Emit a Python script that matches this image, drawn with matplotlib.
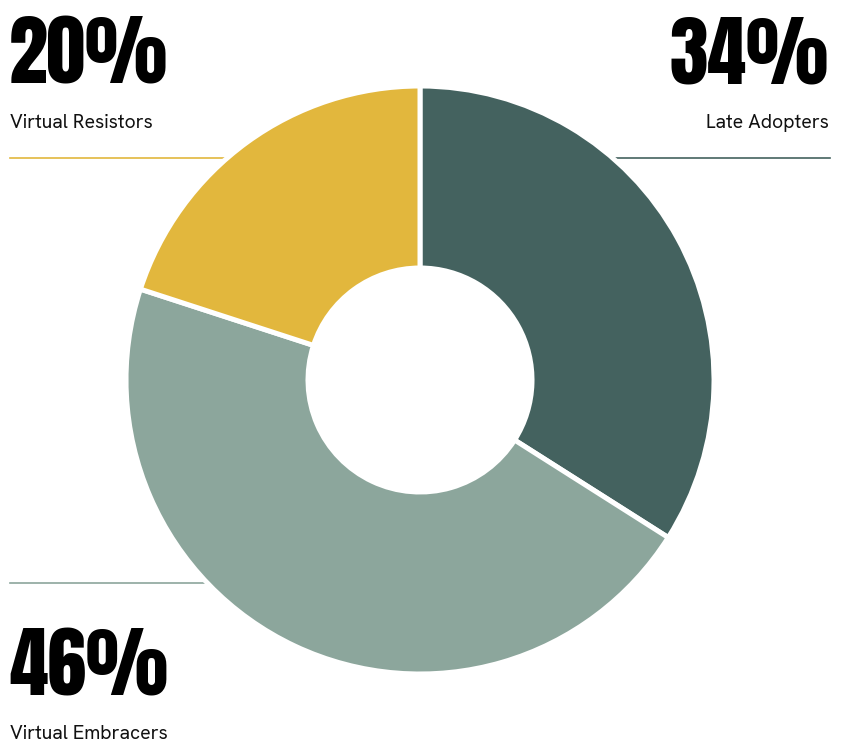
import matplotlib
matplotlib.use("Agg")
import matplotlib.pyplot as plt

categories = ["Late Adopters", "Virtual Embracers", "Virtual Resistors"]
values = [34, 46, 20]
colors = ["#44625f", "#8ca69c", "#e2b73d"]

W, H = 843, 746
fig = plt.figure(figsize=(W / 100, H / 100), dpi=100)
ax = fig.add_axes([0, 0, 1, 1])

cx, cy = 420, H - 380
R = 294
wedges, _ = ax.pie(values, colors=colors, startangle=90, counterclock=False,
                   center=(cx, cy), radius=R, frame=True,
                   wedgeprops=dict(width=182, edgecolor="white", linewidth=3.6))
for w in wedges:
    w.set_zorder(3)
ax.set_xlim(0, W)
ax.set_ylim(0, H)
ax.set_aspect("equal")
ax.axis("off")

# leader lines (behind the donut)
ax.plot([10, 260], [H - 158, H - 158], color=colors[2], lw=1.2, zorder=1)
ax.plot([580, 830], [H - 158, H - 158], color=colors[0], lw=1.2, zorder=1)
ax.plot([10, 260], [H - 583, H - 583], color=colors[1], lw=1.2, zorder=1)

big = dict(fontsize=56, family=["Anton", "DejaVu Sans"], color="black")
small = dict(fontsize=14, family=["Hanken Grotesk", "DejaVu Sans"], color="#111111")

ax.text(9, H - 83, f"{values[2]}%", ha="left", va="baseline", **big)
ax.text(10, H - 128, categories[2], ha="left", va="baseline", **small)
ax.text(829, H - 83, f"{values[0]}%", ha="right", va="baseline", **big)
ax.text(829, H - 128, categories[0], ha="right", va="baseline", **small)
ax.text(9, H - 695, f"{values[1]}%", ha="left", va="baseline", **big)
ax.text(10, H - 739, categories[1], ha="left", va="baseline", **small)

fig.savefig("out.png", dpi=100)
